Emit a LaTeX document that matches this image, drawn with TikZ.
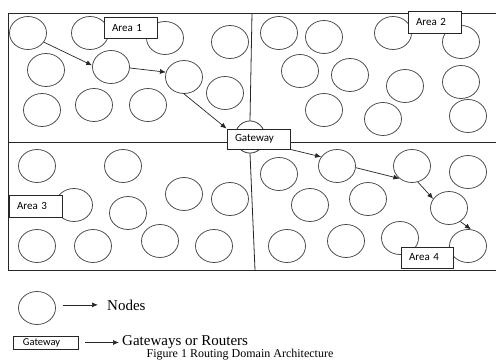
\documentclass[tikz,border=0pt]{standalone}
\usepackage{fontspec}
\setmainfont{Liberation Serif}
\newfontfamily\carl{Carlito}
\usetikzlibrary{shapes.geometric,arrows.meta,calc}
\begin{document}
\begin{tikzpicture}[x=1pt,y=-1pt,
  nd/.style={ellipse, draw=black!72, line width=0.75pt, minimum width=37pt, minimum height=33pt, inner sep=0pt, fill=white},
  gwcirc/.style={nd, minimum width=30pt, minimum height=32pt},
  lbl/.style={draw=black!85, fill=white, line width=0.8pt, inner xsep=8pt, inner ysep=0pt, align=left, font=\carl\fontsize{11}{13}\selectfont},
  gwbox/.style={lbl, text width=47pt, minimum height=20pt},
  frame/.style={draw=black!85, line width=0.8pt},
  conn/.style={-{Latex[length=6pt,width=5pt]}, draw=black!85, line width=0.7pt},
  legtext/.style={anchor=base west, inner sep=0pt, font=\fontsize{15}{18}\selectfont}]
\useasboundingbox (0,0) rectangle (496,360);
% frame
\coordinate (tl) at (8,13);
\coordinate (tr) at (496,13);
\coordinate (bl) at (8,270);
\coordinate (br) at (496,270);
\coordinate (ml) at (8,142);
\coordinate (mr) at (496,142);
\coordinate (vt) at (252,13);
\coordinate (vb) at (255,270);
\path (250,137) node[gwcirc] (gwc) {} (258.5,139) node[gwbox] (gw) {Gateway};
\draw[frame] (tr) -- (tl) -- (bl) -- (br);
\draw[frame] (ml) -- (gw.west |- ml);
\draw[frame] (gw.east |- mr) -- (mr);
\draw[frame] (vt) -- (gwc.north);
\draw[frame] (gwc.south) -- (vb);
% gateway circle and box drawn again above the lines
\node[gwcirc] (gwc2) at (gwc) {};
\node[gwbox] (gw2) at (gw) {Gateway};
% Area 1
\node[nd] (a1) at (28,33) {};
\node[nd] (a2) at (90,33) {};
\node[nd] (a3) at (165,38) {};
\node[nd] (a4) at (230,42) {};
\node[nd] (a5) at (46,70) {};
\node[nd] (a6) at (111,67) {};
\node[nd] (a7) at (184,77) {};
\node[nd] (a8) at (225,93) {};
\node[nd] (a9) at (42,110) {};
\node[nd] (a10) at (94,105) {};
\node[nd] (a11) at (148,105) {};
% Area 2
\node[nd] (b1) at (279,33) {};
\node[nd] (b2) at (324,37) {};
\node[nd] (b3) at (393,33) {};
\node[nd] (b4) at (461,42) {};
\node[nd] (b5) at (300,71) {};
\node[nd] (b6) at (350,75) {};
\node[nd] (b7) at (405,86) {};
\node[nd] (b8) at (461,82) {};
\node[nd] (b9) at (324,110) {};
\node[nd] (b10) at (383,119) {};
\node[nd] (b11) at (468,116) {};
% Area 3
\node[nd] (c1) at (37,166) {};
\node[nd] (c2) at (123,166) {};
\node[nd] (c3) at (74,205) {};
\node[nd] (c4) at (184,194) {};
\node[nd] (c5) at (230,199) {};
\node[nd] (c6) at (128,213) {};
\node[nd] (c7) at (37,246) {};
\node[nd] (c8) at (93,246) {};
\node[nd] (c9) at (160,241) {};
\node[nd] (c10) at (214,246) {};
% Area 4
\node[nd] (d1) at (279,174) {};
\node[nd] (d2) at (337,166) {};
\node[nd] (d3) at (412,166) {};
\node[nd] (d4) at (468,172) {};
\node[nd] (d5) at (310,205) {};
\node[nd] (d6) at (368,199) {};
\node[nd] (d7) at (449,208) {};
\node[nd] (d8) at (287,246) {};
\node[nd] (d9) at (346,241) {};
\node[nd] (d10) at (400,238) {};
\node[nd] (d11) at (468,246) {};
% area labels
\node[lbl, text width=37pt, minimum height=21pt] (ar1) at (130.5,27.5) {Area 1};
\node[lbl, text width=37pt, minimum height=22pt] (ar2) at (434.5,22) {Area 2};
\node[lbl, text width=37pt, minimum height=22pt] (ar3) at (35.5,206) {Area 3};
\node[lbl, text width=36pt, minimum height=21pt] (ar4) at (427,257.5) {Area 4};
% route arrows
\draw[conn] (a1.-30) -- (a6.175);
\draw[conn] (a6.-3) -- (a7.165);
\draw[conn] (a7.south) -- (gw.north west);
\draw[conn] (gw.south east) -- (d2.150);
\draw[conn] (d2.-5) -- (d3.225);
\draw[conn] (d3.290) -- (d7.150);
\draw[conn] (d7.-50) -- (d11.80);
% legend
\node[nd] (lc) at (37,308) {};
\node[legtext] (nt) at (107,310) {Nodes};
\draw[conn, shorten <=7pt, shorten >=9pt] (lc.east |- nt.west) -- (nt.west);
\node[lbl, text width=45pt, minimum height=13pt, inner xsep=10pt, font=\carl\fontsize{10.5}{12}\selectfont] (lg) at (45.5,342.5) {Gateway};
\node[legtext] (gt) at (122,345) {Gateways or Routers};
\draw[conn, shorten <=7pt, shorten >=3pt] (lg.east) -- (lg.east -| gt.west);
\node[anchor=base, inner sep=0pt, font=\fontsize{12}{14}\selectfont] (cap) at (240,357) {Figure 1 Routing Domain Architecture};
\end{tikzpicture}
\end{document}
